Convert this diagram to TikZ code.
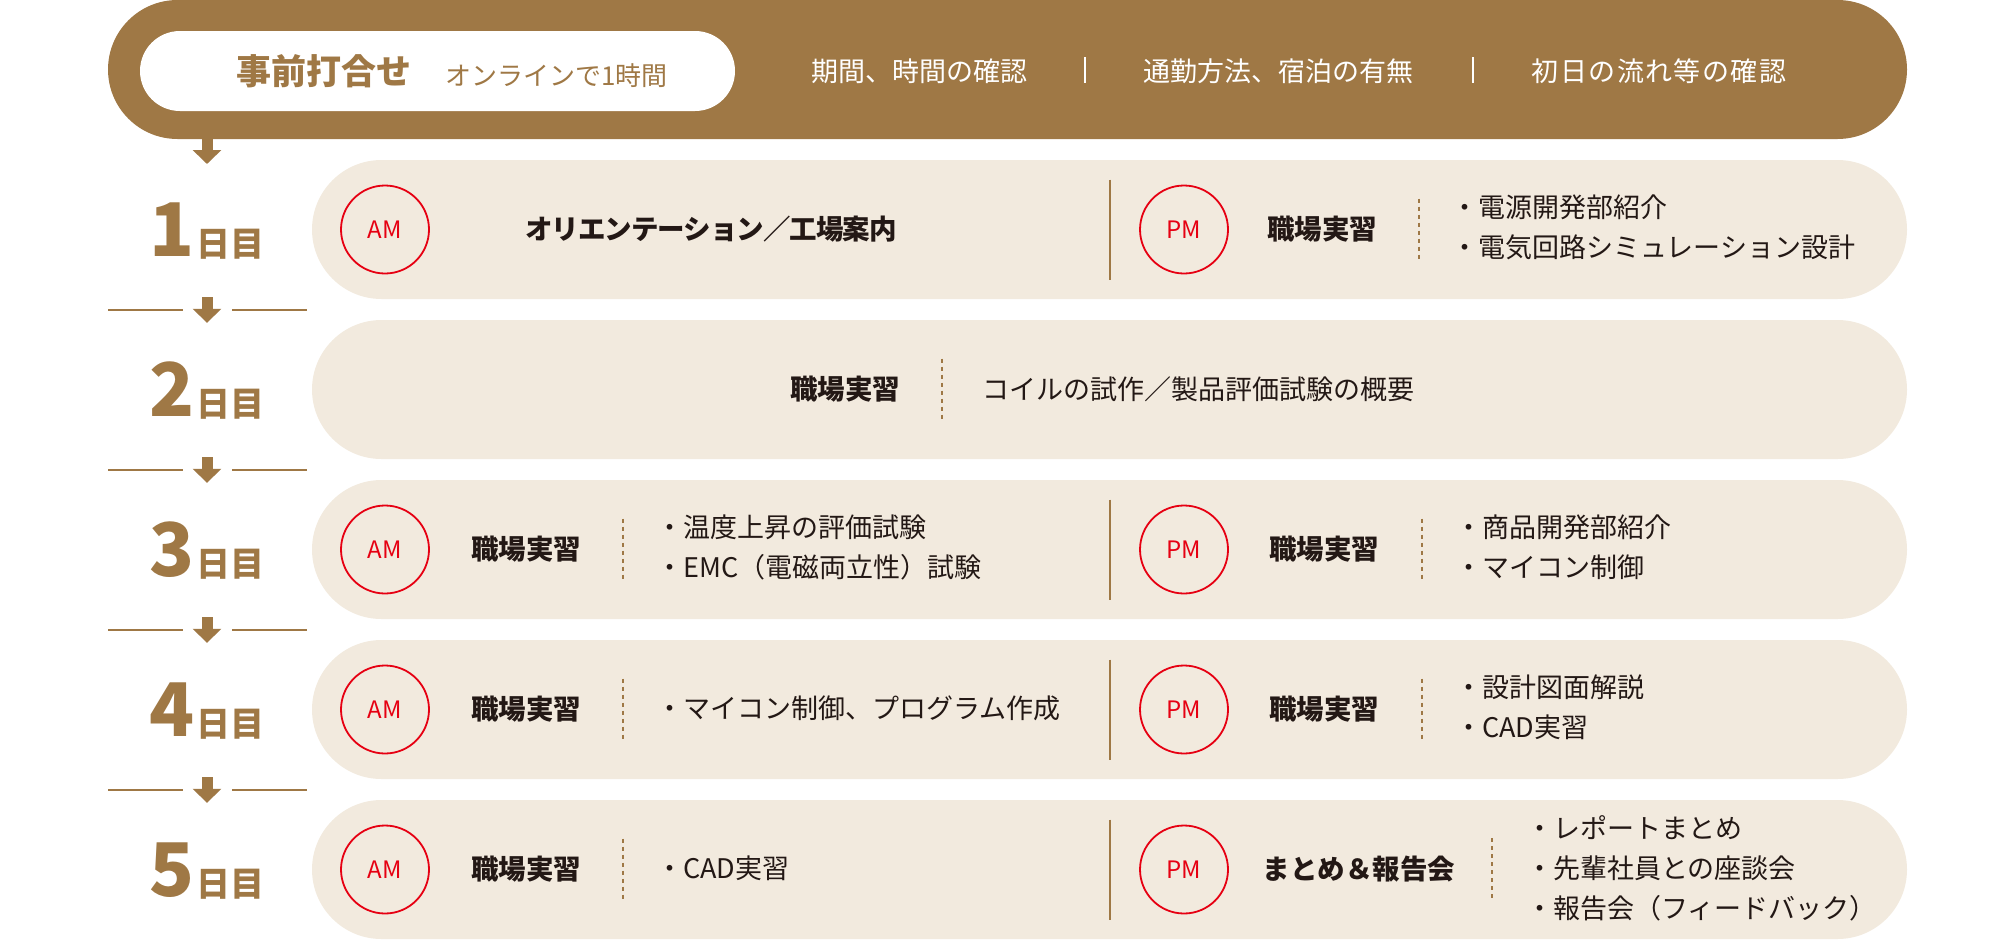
\documentclass[tikz,border=0pt]{standalone}
\usepackage{fontspec}
\setmainfont{Noto Sans CJK JP}
\usetikzlibrary{arrows.meta,calc}
\definecolor{kbrown}{RGB}{159,120,69}
\definecolor{kbeige}{RGB}{242,234,222}
\definecolor{kred}{RGB}{230,0,18}
\definecolor{kink}{RGB}{35,24,21}
\newcommand\jfs[1]{\fontsize{#1}{#1}\selectfont}
\begin{document}
\begin{tikzpicture}[x=1pt,y=-1pt,
  topbar/.style={fill=kbrown,draw=none,minimum width=1799pt,minimum height=139pt,rounded corners=69.5pt,inner sep=0},
  pill/.style={fill=white,draw=none,minimum width=595pt,minimum height=80pt,rounded corners=40pt,inner sep=0},
  rowbox/.style={fill=kbeige,draw=none,minimum width=1595pt,minimum height=139pt,rounded corners=69.5pt,inner sep=0},
  ampm/.style={circle,draw=kred,line width=1.8pt,minimum size=88pt,inner sep=0,text=kred,font=\jfs{24}},
  lbl/.style={inner sep=0,text=kink,font=\bfseries\jfs{27.5}},
  txt/.style={inner sep=0,text=kink,font=\fontsize{27}{40}\selectfont,align=left,anchor=west},
  toptxt/.style={inner sep=0,text=white,font=\jfs{27}},
  solidsep/.style={draw=kbrown,line width=1.5pt},
  dashsep/.style={draw=kbrown,line width=2pt,dash pattern=on 4pt off 4pt},
  whitesep/.style={draw=white,line width=1.5pt},
  flow/.style={draw=kbrown,line width=11pt,-{Triangle[width=28pt,length=14pt]}},
  hline/.style={draw=kbrown,line width=2pt},
  daylbl/.style={inner sep=0,text=kbrown,font=\bfseries,anchor=base}]
\useasboundingbox (0,0) rectangle (2000,940);

% ---------- top bar ----------
\node[topbar] (top) at (1007.5,69.5) {};
\node[pill] (pre) at (437.5,71) {};
\node[inner sep=0,text=kbrown,font=\bfseries\jfs{35},anchor=base west] (preA) at (236,84.5) {事前打合せ};
\node[inner sep=0,text=kbrown,font=\jfs{26},anchor=base west] (preB) at (445,85) {オンラインで1時間};
\node[toptxt] (q1) at (919,71) {期間、時間の確認};
\node[toptxt] (q2) at (1278,71) {通勤方法、宿泊の有無};
\node[toptxt] (q3) at (1659,71) {\addfontfeature{LetterSpace=5.5}初日の流れ等の確認};
\draw[whitesep] (1085,57) -- (1085,83);
\draw[whitesep] (1473,57) -- (1473,83);

% ---------- rows ----------
\node[rowbox] (r1) at (1109.5,229.5) {};
\node[rowbox] (r2) at (1109.5,389.5) {};
\node[rowbox] (r3) at (1109.5,549.5) {};
\node[rowbox] (r4) at (1109.5,709.5) {};
\node[rowbox] (r5) at (1109.5,869.5) {};

% ---------- day labels ----------
\node[daylbl] (d1) at (207,256.5) {{\jfs{74}1}\hspace{2pt}{\jfs{34}日目}};
\node[daylbl] (d2) at (207,416.5) {{\jfs{74}2}\hspace{2pt}{\jfs{34}日目}};
\node[daylbl] (d3) at (207,576.5) {{\jfs{74}3}\hspace{2pt}{\jfs{34}日目}};
\node[daylbl] (d4) at (207,736.5) {{\jfs{74}4}\hspace{2pt}{\jfs{34}日目}};
\node[daylbl] (d5) at (207,896.5) {{\jfs{74}5}\hspace{2pt}{\jfs{34}日目}};

% ---------- arrows ----------
\coordinate (a0) at (207,164);
\draw[flow] (top.south -| d1) -- (a0);
\foreach \i/\j in {1/2,2/3,3/4,4/5}{
  \draw[flow,shorten <=-2pt,shorten >=-3pt] (r\i.south -| d1) -- (r\j.north -| d1);
  \coordinate (m\i) at ($(r\i.south -| d1)!0.5!(r\j.north -| d1)$);
  \draw[hline] ([xshift=-99pt]m\i) -- ([xshift=-24pt]m\i);
  \draw[hline] ([xshift=25pt]m\i) -- ([xshift=100pt]m\i);
}

% ---------- day 1 ----------
\node[ampm] (am1) at (385,229.5) {AM};
\node[lbl] (t1a) at (711,229.5) {\addfontfeature{LetterSpace=-3.5}オリエンテーション／工場案内};
\draw[solidsep] (1110,179.5) -- (1110,279.5);
\node[ampm] (pm1) at (1184,229.5) {PM};
\node[lbl] (t1b) at (1322,229.5) {職場実習};
\draw[dashsep] (1419,198.5) -- (1419,258.5);
\node[txt] (l1b) at (1451,227.5) {・電源開発部紹介\\・電気回路シミュレーション設計};

% ---------- day 2 ----------
\node[lbl] (t2) at (845,389.5) {職場実習};
\draw[dashsep] (942,358.5) -- (942,418.5);
\node[txt] (l2) at (982,389.5) {コイルの試作／製品評価試験の概要};

% ---------- day 3 ----------
\node[ampm] (am3) at (385,549.5) {AM};
\node[lbl] (t3a) at (526,549.5) {職場実習};
\draw[dashsep] (623,518.5) -- (623,578.5);
\node[txt] (l3a) at (656,547.5) {・温度上昇の評価試験\\・EMC（電磁両立性）試験};
\draw[solidsep] (1110,499.5) -- (1110,599.5);
\node[ampm] (pm3) at (1184,549.5) {PM};
\node[lbl] (t3b) at (1324,549.5) {職場実習};
\draw[dashsep] (1422,518.5) -- (1422,578.5);
\node[txt] (l3b) at (1455,547.5) {・商品開発部紹介\\・マイコン制御};

% ---------- day 4 ----------
\node[ampm] (am4) at (385,709.5) {AM};
\node[lbl] (t4a) at (526,709.5) {職場実習};
\draw[dashsep] (623,678.5) -- (623,738.5);
\node[txt] (l4a) at (656,708) {・マイコン制御、プログラム作成};
\draw[solidsep] (1110,659.5) -- (1110,759.5);
\node[ampm] (pm4) at (1184,709.5) {PM};
\node[lbl] (t4b) at (1324,709.5) {職場実習};
\draw[dashsep] (1422,678.5) -- (1422,738.5);
\node[txt] (l4b) at (1455,707.5) {・設計図面解説\\・CAD実習};

% ---------- day 5 ----------
\node[ampm] (am5) at (385,869.5) {AM};
\node[lbl] (t5a) at (526,869.5) {職場実習};
\draw[dashsep] (623,838.5) -- (623,898.5);
\node[txt] (l5a) at (656,868.5) {・CAD実習};
\draw[solidsep] (1110,819.5) -- (1110,919.5);
\node[ampm] (pm5) at (1184,869.5) {PM};
\node[lbl] (t5b) at (1359,869.5) {まとめ＆報告会};
\draw[dashsep] (1492,838) -- (1492,898);
\node[txt] (l5b) at (1526,868) {・レポートまとめ\\・先輩社員との座談会\\・報告会（フィードバック）};
\end{tikzpicture}
\end{document}
